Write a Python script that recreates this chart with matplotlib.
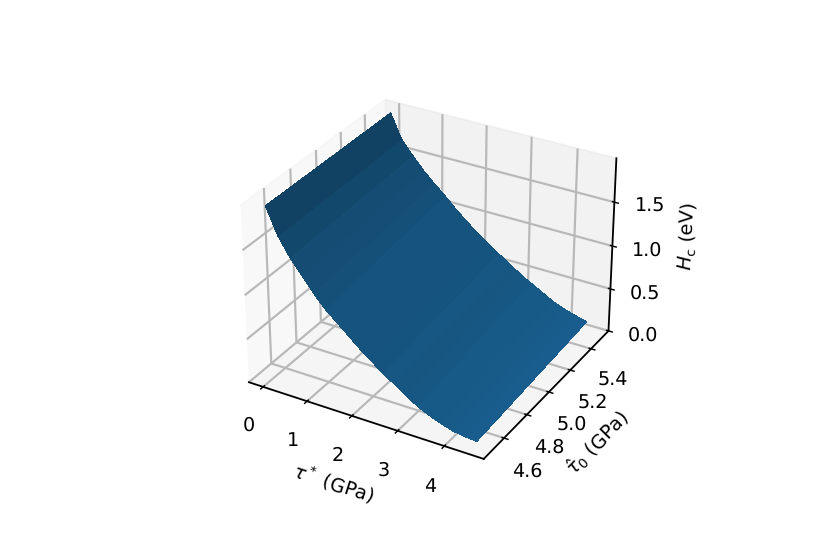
import numpy as np
import matplotlib
matplotlib.use("Agg")
import matplotlib.pyplot as plt

tau_star = [0.0, 0.25, 0.5, 0.75, 1.0, 1.25, 1.5, 1.75, 2.0, 2.25, 2.5, 2.75, 3.0, 3.25, 3.5, 3.75, 4.0, 4.25, 4.5]
tau_0 = [4.5, 5.5]
hc_low = [1.95, 1.66, 1.46, 1.30, 1.14, 1.00, 0.89, 0.78, 0.67, 0.57, 0.47, 0.39, 0.30, 0.22, 0.16, 0.11, 0.07, 0.05, 0.04]
hc_high = [1.95, 1.68, 1.53, 1.39, 1.27, 1.16, 1.04, 0.93, 0.83, 0.74, 0.65, 0.57, 0.48, 0.41, 0.34, 0.27, 0.22, 0.18, 0.15]

X, Y = np.meshgrid(tau_star, tau_0)
Z = np.array([hc_low, hc_high])

plt.rcParams["font.size"] = 10.6
plt.rcParams["grid.linewidth"] = 1.2
plt.rcParams["grid.color"] = "#b8b8b8"
plt.rcParams["axes.linewidth"] = 1.0
plt.rcParams["text.hinting"] = "none"

fig = plt.figure(figsize=(830/130, 554/130), dpi=130)
ax = fig.add_axes([0.5137 - 0.7595/2, 0.5013 - 0.7546/2, 0.7595, 0.7546], projection="3d")
ax.plot_surface(X, Y, Z, color="#1f77b4", linewidth=0.5, antialiased=False, shade=True)
ax.set_xlabel(r"$\tau^*$ (GPa)", labelpad=4)
ax.set_ylabel(r"$\hat{\tau}_0$ (GPa)")
ax.set_zlabel(r"$H_{\mathrm{c}}$ (eV)", labelpad=5)
ax.set_xticks([0, 1, 2, 3, 4])
ax.set_yticks([4.6, 4.8, 5.0, 5.2, 5.4])
ax.set_zticks([0, 0.5, 1.0, 1.5])
ax.set_zlim(0, 1.99)
ax.tick_params(axis="x", pad=4)
ax.tick_params(axis="z", pad=4)
fig.savefig("out.png", dpi=130)
